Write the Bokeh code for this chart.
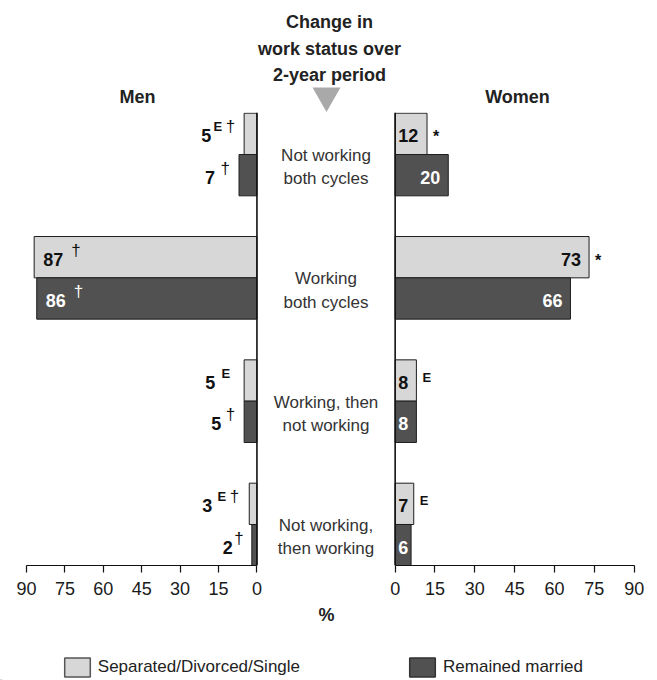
from bokeh.plotting import figure
from bokeh.layouts import row, column
from bokeh.models import Range1d, FixedTicker, Span, ColumnDataSource, Legend, LegendItem
from bokeh.transform import dodge
from bokeh.core.properties import value
from bokeh.embed import file_html
from bokeh.resources import INLINE

# ---------------- data ----------------
categories = ["Not working\nboth cycles", "Working\nboth cycles",
              "Working, then\nnot working", "Not working,\nthen working"]
series = ["Separated/Divorced/Single", "Remained married"]
men_single = [5, 87, 5, 3]
men_married = [7, 86, 5, 2]
women_single = [12, 73, 8, 7]
women_married = [20, 66, 8, 6]
men_single_notes = ["E †", "†", "E", "E †"]
men_married_notes = ["†", "†", "†", "†"]
women_single_notes = ["*", "*", "E", "E"]
women_married_notes = ["", "", "", ""]
ticks = [0, 15, 30, 45, 60, 75, 90]
header_lines = ["Change in", "work status over", "2-year period"]
panel_titles = ["Men", "Women"]
unit_label = "%"

# ---------------- style ----------------
FONT = "Liberation Sans"
LIGHT = "#d7d7d7"
DARK = "#515151"
EDGE = "#1e1e1e"
TXT = "#1a1a1a"
pos = list(range(len(categories)))
SHIFT = 0.1675
BAR_H = 0.335
Y_RANGE = (3.3325, -0.3406)
ROW_H = 493
BOTTOM = 40
NUM_SIZE = "18px"
NUM_DY = 2
# note glyph styles: size, vertical offset (men), vertical offset (women), weight
NOTE_STYLE = {"E": ("13px", -7, -3.5, "bold"), "†": ("17px", -7, -7, "normal"),
              "*": ("16px", 3, 3, "bold")}
NOTE_STEP = 13

# label offsets (px) for the men panel (outside labels right-aligned, inside left-aligned)
men_single_num_dx = [-33, 9, -29, -37]
men_single_sup_dx = [-9, 37, -14, -10]
men_married_num_dx = [-24, 9, -23, -19]
men_married_sup_dx = [-9, 37, -9, -8]


def base_fig(width, x_range, mbl, mbr, axis=True):
    p = figure(width=width, height=ROW_H, x_range=x_range,
               y_range=Range1d(*Y_RANGE), toolbar_location=None,
               output_backend="svg", y_axis_type=None,
               x_axis_type="linear" if axis else None,
               min_border_left=mbl, min_border_right=mbr,
               min_border_top=0, min_border_bottom=BOTTOM)
    p.outline_line_color = None
    p.xgrid.visible = False
    p.ygrid.visible = False
    if axis:
        ax = p.xaxis[0]
        ax.ticker = FixedTicker(ticks=ticks)
        ax.bounds = (0, 90)
        ax.major_tick_out = 7
        ax.major_tick_in = 0
        ax.minor_tick_line_color = None
        ax.axis_line_color = "#111111"
        ax.axis_line_width = 1.2
        ax.major_tick_line_color = "#111111"
        ax.major_tick_line_width = 1.2
        ax.major_label_text_font = FONT
        ax.major_label_text_font_size = "18px"
        ax.major_label_text_color = TXT
        ax.major_label_standoff = 9
    return p


def add_bars(p, single, married):
    src = ColumnDataSource(dict(pos=pos, single=single, married=married))
    p.hbar(y=dodge("pos", -SHIFT), left=0, right="single", height=BAR_H, source=src,
           fill_color=LIGHT, line_color=EDGE, line_width=1)
    p.hbar(y=dodge("pos", SHIFT), left=0, right="married", height=BAR_H, source=src,
           fill_color=DARK, line_color=EDGE, line_width=1)
    p.add_layout(Span(location=0, dimension="height", line_color="#111111", line_width=1.6))


class Labels:
    def __init__(self):
        self.groups = {}

    def push(self, align, style, x, y, text, dx, dy, color, size):
        d = self.groups.setdefault((align, style), dict(x=[], y=[], text=[], dx=[], dy=[],
                                                        color=[], size=[]))
        d["x"].append(x); d["y"].append(y); d["text"].append(text)
        d["dx"].append(dx); d["dy"].append(dy); d["color"].append(color); d["size"].append(size)

    def draw(self, p):
        for (align, style), d in self.groups.items():
            p.text(x="x", y="y", text="text", x_offset="dx", y_offset="dy",
                   source=ColumnDataSource(d), text_align=align, text_baseline="alphabetic",
                   text_color="color", text_font_size="size", text_font=value(FONT),
                   text_font_style=style)


# ---------------- men (left) ----------------
men = base_fig(265, Range1d(93.9, -1), 16, 6)
add_bars(men, men_single, men_married)
ml = Labels()
for vals, notes, ndx, sdx, sh, inner in [
        (men_single, men_single_notes, men_single_num_dx, men_single_sup_dx, -SHIFT, "#111111"),
        (men_married, men_married_notes, men_married_num_dx, men_married_sup_dx, SHIFT, "#ffffff")]:
    for i, v in enumerate(vals):
        inside = v > 50
        align = "left" if inside else "right"
        col = inner if inside else "#111111"
        y = pos[i] + sh
        ml.push(align, "bold", v, y, str(v), ndx[i], NUM_DY, col, NUM_SIZE)
        parts = notes[i].split()
        step = NOTE_STEP if inside else -NOTE_STEP
        x_at = sdx[i]
        for part in (parts if inside else list(reversed(parts))):
            size, dym, _, weight = NOTE_STYLE[part]
            ml.push(align, weight, v, y, part, x_at, dym, col, size)
            x_at += step
ml.draw(men)

# ---------------- center ----------------
center = base_fig(121, Range1d(0, 1), 0, 0, axis=False)
l1 = [c.split("\n")[0] for c in categories]
l2 = [c.split("\n")[1] for c in categories]
csrc = ColumnDataSource(dict(pos=pos, l1=l1, l2=l2, mid=[0.5] * len(pos)))
for field, off in [("l1", 1), ("l2", 24.3)]:
    center.text(x="mid", y="pos", text=field, source=csrc, y_offset=off,
                text_align="center", text_baseline="alphabetic",
                text_font=value(FONT), text_font_size="17px", text_color="#333333")

# ---------------- women (right) ----------------
women = base_fig(262, Range1d(-1, 92.37), 6, 8)
add_bars(women, women_single, women_married)
wl = Labels()
for vals, notes, sh, inner in [(women_single, women_single_notes, -SHIFT, "#111111"),
                               (women_married, women_married_notes, SHIFT, "#ffffff")]:
    for i, v in enumerate(vals):
        y = pos[i] + sh
        if v >= 15:
            wl.push("right", "bold", v, y, str(v), -8, NUM_DY, inner, NUM_SIZE)
        else:
            wl.push("left", "bold", 0, y, str(v), 3, NUM_DY, inner, NUM_SIZE)
        for part in notes[i].split():
            size, _, dyw, weight = NOTE_STYLE[part]
            wl.push("left", weight, v, y, part, 6, dyw, "#111111", size)
wl.draw(women)

# ---------------- header ----------------
head = figure(width=648, height=112, x_range=Range1d(0, 648), y_range=Range1d(112, 0),
              toolbar_location=None, output_backend="svg", x_axis_type=None, y_axis_type=None,
              min_border=0)
head.outline_line_color = None
head.xgrid.visible = False
head.ygrid.visible = False
head.text(x=[329] * 3, y=[21.3, 48, 74.5], text=header_lines, text_align="center",
          text_baseline="alphabetic", text_font=value(FONT), text_font_size="18px",
          text_font_style="bold", text_color="#222222")
head.text(x=[137, 517], y=[96, 96], text=panel_titles, text_align="center",
          text_baseline="alphabetic", text_font=value(FONT), text_font_size="18px",
          text_font_style="bold", text_color="#222222")
head.patch(x=[312, 340, 326], y=[87, 87, 111.5], fill_color="#a9a9a9", line_color=None)

# ---------------- bottom (unit + legend) ----------------
foot = figure(width=648, height=75, x_range=Range1d(0, 648), y_range=Range1d(680, 605),
              toolbar_location=None, output_backend="svg", x_axis_type=None, y_axis_type=None,
              min_border=0)
foot.outline_line_color = None
foot.xgrid.visible = False
foot.ygrid.visible = False
foot.text(x=[326], y=[614.7], text=[unit_label], text_align="center",
          text_baseline="alphabetic", text_font=value(FONT), text_font_size="18px",
          text_font_style="bold", text_color="#222222")
r1 = foot.hbar(y=[2000], right=[1], left=[0], height=1, fill_color=LIGHT,
               line_color="#555555", line_width=1.5)
r2 = foot.hbar(y=[2000], right=[1], left=[0], height=1, fill_color=DARK,
               line_color="#333333", line_width=1.5)
legend = Legend(items=[LegendItem(label=series[0], renderers=[r1]),
                       LegendItem(label=series[1], renderers=[r2])],
                orientation="horizontal", location=(60.8, 1.4), padding=0, margin=0,
                spacing=106, glyph_width=32, glyph_height=24, label_standoff=5,
                label_text_font=FONT, label_text_font_size="17px", label_text_color="#222222",
                border_line_color=None, background_fill_alpha=0)
foot.add_layout(legend)

layout = column(head, row(men, center, women), foot)
open("out.html", "w").write(file_html(layout, INLINE))
